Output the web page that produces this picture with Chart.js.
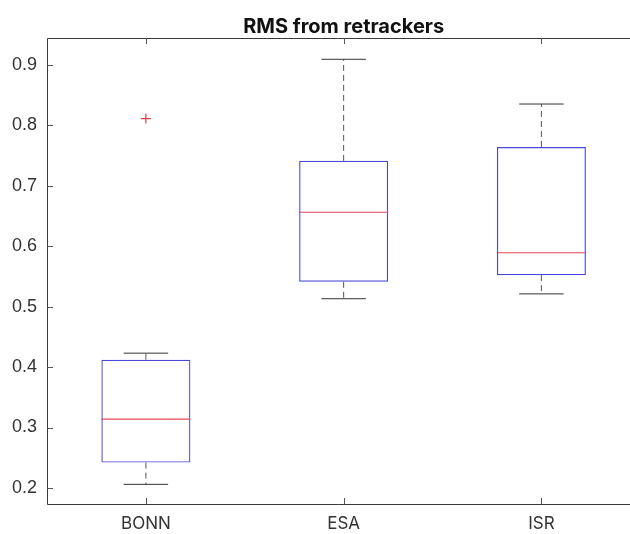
<!DOCTYPE html>
<html>
<head>
<meta charset="utf-8">
<script src="https://cdn.jsdelivr.net/npm/chart.js@4.4.1/dist/chart.umd.min.js"></script>
<style>
  html, body { margin: 0; padding: 0; background: #fff; overflow: hidden; }
</style>
</head>
<body>
<canvas id="myChart" width="630" height="534"></canvas>
<script>
// box plot stats per retracker
const groups = ['BONN', 'ESA', 'ISR'];
const positions = [1, 2, 3];
const lowerWhisker = [0.206, 0.513, 0.521];
const q1 = [0.242, 0.541, 0.552];
const median = [0.314, 0.656, 0.589];
const q3 = [0.412, 0.741, 0.764];
const upperWhisker = [0.423, 0.909, 0.835];
const outliers = [[0.811], [], []];

const yTicks = [0.2, 0.3, 0.4, 0.5, 0.6, 0.7, 0.8, 0.9];
const yMin = 0.1735;
const yMax = 0.9442;
// the axes run on to 3.5, the figure is cut off before that
const xMin = 0.5;
const xMax = 3.448;

const titleText = 'RMS from retrackers';
const axisColor = '#3a3a3a';

// whiskers, caps, medians, axes frame, inward ticks and title
const boxPlotExtras = {
    id: 'boxPlotExtras',
    afterDatasetsDraw(chart) {
        const ctx = chart.ctx;
        const y = chart.scales.y;
        const x = chart.scales.x;
        const area = chart.chartArea;
        const bars = chart.getDatasetMeta(0).data;

        ctx.save();
        bars.forEach((bar, i) => {
            const cx = bar.x;
            const half = bar.width / 2;
            const capHalf = half / 2;

            // median
            ctx.strokeStyle = 'rgb(232,72,84)';
            ctx.lineWidth = 1.2;
            ctx.setLineDash([]);
            ctx.beginPath();
            ctx.moveTo(cx - half, y.getPixelForValue(median[i]));
            ctx.lineTo(cx + half, y.getPixelForValue(median[i]));
            ctx.stroke();

            // dashed whiskers
            ctx.strokeStyle = '#555';
            ctx.lineWidth = 1;
            ctx.setLineDash([6, 4]);
            ctx.beginPath();
            ctx.moveTo(cx, y.getPixelForValue(q3[i]));
            ctx.lineTo(cx, y.getPixelForValue(upperWhisker[i]));
            ctx.moveTo(cx, y.getPixelForValue(q1[i]));
            ctx.lineTo(cx, y.getPixelForValue(lowerWhisker[i]));
            ctx.stroke();

            // caps
            ctx.setLineDash([]);
            ctx.strokeStyle = '#333';
            ctx.beginPath();
            ctx.moveTo(cx - capHalf, y.getPixelForValue(upperWhisker[i]));
            ctx.lineTo(cx + capHalf, y.getPixelForValue(upperWhisker[i]));
            ctx.moveTo(cx - capHalf, y.getPixelForValue(lowerWhisker[i]));
            ctx.lineTo(cx + capHalf, y.getPixelForValue(lowerWhisker[i]));
            ctx.stroke();
        });

        // axes frame: left, top, bottom (right side is off the canvas)
        ctx.strokeStyle = axisColor;
        ctx.lineWidth = 1;
        ctx.beginPath();
        ctx.moveTo(area.right, area.top + 0.5);
        ctx.lineTo(area.left + 0.5, area.top + 0.5);
        ctx.lineTo(area.left + 0.5, area.bottom + 0.5);
        ctx.lineTo(area.right, area.bottom + 0.5);
        ctx.stroke();

        // ticks pointing inward
        const tl = 6;
        ctx.strokeStyle = '#555';
        ctx.beginPath();
        y.ticks.forEach((t, i) => {
            const py = Math.round(y.getPixelForTick(i)) + 0.5;
            ctx.moveTo(area.left, py);
            ctx.lineTo(area.left + tl, py);
        });
        x.ticks.forEach((t, i) => {
            const px = Math.round(x.getPixelForTick(i)) + 0.5;
            ctx.moveTo(px, area.top);
            ctx.lineTo(px, area.top + tl);
            ctx.moveTo(px, area.bottom);
            ctx.lineTo(px, area.bottom - tl);
        });
        ctx.stroke();

        // title centred over the full axes
        ctx.fillStyle = '#111';
        ctx.font = 'bold 20px Inter';
        ctx.textAlign = 'center';
        ctx.textBaseline = 'middle';
        ctx.fillText(titleText, x.getPixelForValue((xMin + 3.5) / 2), 27);
        ctx.restore();
    }
};

const outlierPoints = [];
outliers.forEach((vals, i) => vals.forEach(v => outlierPoints.push({ x: positions[i], y: v })));

new Chart(document.getElementById('myChart'), {
    type: 'bar',
    data: {
        datasets: [{
            data: positions.map((p, i) => ({ x: p, y: [q1[i], q3[i]] })),
            backgroundColor: 'rgba(0,0,0,0)',
            borderColor: 'rgb(72,72,215)',
            borderWidth: 1.2,
            borderSkipped: false,
            barPercentage: 0.45,
            categoryPercentage: 1
        }, {
            type: 'line',
            data: outlierPoints,
            showLine: false,
            pointStyle: 'cross',
            pointRadius: 5,
            pointBorderColor: 'rgb(232,60,70)',
            pointBorderWidth: 1.2
        }]
    },
    options: {
        responsive: false,
        devicePixelRatio: 1,
        animation: false,
        layout: { autoPadding: false, padding: { left: 0, right: 0, top: 38, bottom: 0 } },
        plugins: {
            legend: { display: false },
            tooltip: { enabled: false },
            title: { display: false }
        },
        scales: {
            x: {
                type: 'linear',
                min: xMin,
                max: xMax,
                offset: false,
                grid: { display: false, drawTicks: false },
                border: { display: false },
                afterBuildTicks: (scale) => { scale.ticks = positions.map(v => ({ value: v })); },
                ticks: {
                    color: '#333',
                    padding: 10,
                    font: { family: 'Inter', size: 17 },
                    callback: (v) => groups[positions.indexOf(v)]
                },
                afterFit: (scale) => {
                    scale.height = 30;
                    scale.paddingLeft = 0;
                    scale.paddingRight = 0;
                }
            },
            y: {
                min: yMin,
                max: yMax,
                grid: { display: false, drawTicks: false },
                border: { display: false },
                afterBuildTicks: (scale) => { scale.ticks = yTicks.map(v => ({ value: v })); },
                ticks: {
                    color: '#333',
                    padding: 10,
                    font: { family: 'Liberation Sans', size: 18 },
                    callback: (v) => Number(v).toFixed(1)
                },
                afterFit: (scale) => {
                    scale.width = 47;
                    scale.paddingTop = 0;
                    scale.paddingBottom = 0;
                }
            }
        }
    },
    plugins: [boxPlotExtras]
});
</script>
</body>
</html>
